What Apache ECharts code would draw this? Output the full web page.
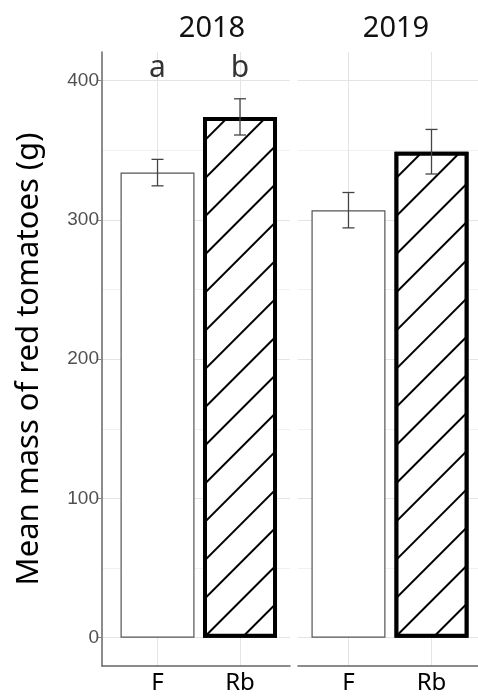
<!DOCTYPE html>
<html><head><meta charset="utf-8">
<script src="https://cdn.jsdelivr.net/npm/echarts@6/dist/echarts.min.js"></script>
<style>html,body{margin:0;padding:0;background:#fff}#c{width:478px;height:697px}</style>
</head><body><div id="c"></div>
<script>
// ---- data ----
const years = ['2018', '2019'];
const treatments = ['F', 'Rb'];
const xPos = [1, 2];
const mean2018 = [334, 374];
const se2018 = [9.5, 13];
const mean2019 = [307, 349];
const se2019 = [12.7, 16];
const letters2018 = ['a', 'b'];
const letters2019 = ['', ''];
const letterY = 398;
const yMajorTicks = [0, 100, 200, 300, 400];
const yMinorTicks = [50, 150, 250, 350];
const yTitle = 'Mean mass of red tomatoes (g)';

// ---- layout / style ----
const yMin = -20.3, yMax = 420.6;
const panels = [
  { grid: { left: 102, right: 188, top: 52, bottom: 31 }, xMin: 0.327, xMax: 2.606, titleX: 207, means: mean2018, ses: se2018, letters: letters2018 },
  { grid: { left: 298, right: 0, top: 52, bottom: 31 }, xMin: 0.392, xMax: 2.56, titleX: 391, means: mean2019, ses: se2019, letters: letters2019 }
];
const axisGrey = '#666';
const majorGrid = '#e4e4e4';
const minorGrid = '#f1f1f1';
const hatch = { symbol: 'rect', symbolSize: 1, color: '#000', backgroundColor: '#fff', dashArrayX: [1, 0], dashArrayY: [2, 25], rotation: -Math.PI / 4 };

const grids = [], xAxes = [], yAxes = [], series = [], titles = [];
panels.forEach((p, i) => {
  grids.push(Object.assign({ containLabel: false }, p.grid));
  xAxes.push({
    type: 'value', gridIndex: i, min: p.xMin, max: p.xMax,
    axisLine: { show: true, onZero: false, lineStyle: { color: axisGrey, width: 1.5 } },
    axisTick: { show: false, customValues: xPos },
    axisLabel: { show: true, customValues: xPos, margin: 5, color: '#000', fontSize: 24, fontFamily: 'Noto Sans',
      formatter: v => treatments[xPos.indexOf(v)] || '' },
    splitLine: { show: true, lineStyle: { color: majorGrid, width: 1 } }
  });
  // major y axis
  yAxes.push({
    type: 'value', gridIndex: i, min: yMin, max: yMax,
    name: i === 0 ? yTitle : '', nameLocation: 'middle', nameGap: 57, nameRotate: 90,
    nameTextStyle: { fontSize: 31, fontFamily: 'Noto Sans', color: '#000' },
    axisLine: { show: i === 0, onZero: false, lineStyle: { color: axisGrey, width: 1.5 } },
    axisTick: { show: i === 0, length: 4, customValues: yMajorTicks, lineStyle: { color: '#888' } },
    axisLabel: { show: i === 0, customValues: yMajorTicks, margin: 3, color: '#505050', fontSize: 19, fontFamily: 'Liberation Sans' },
    splitLine: { show: true, lineStyle: { color: majorGrid, width: 1 } }
  });
  // minor y axis (gridlines only)
  yAxes.push({
    type: 'value', gridIndex: i, min: yMin, max: yMax,
    axisLine: { show: false }, axisLabel: { show: false },
    axisTick: { show: false, customValues: yMinorTicks },
    splitLine: { show: true, lineStyle: { color: minorGrid, width: 1 } }
  });
  const yIdx = i * 2;
  series.push({
    type: 'bar', xAxisIndex: i, yAxisIndex: yIdx, barWidth: 74, z: 3,
    data: p.means.map((m, k) => ({
      value: [xPos[k], m],
      itemStyle: k === 0
        ? { color: '#fff', borderColor: '#555', borderWidth: 1.2 }
        : { color: '#fff', borderColor: '#000', borderWidth: 4, decal: hatch }
    }))
  });
  series.push({
    type: 'custom', xAxisIndex: i, yAxisIndex: yIdx, z: 5,
    data: p.means.map((m, k) => [xPos[k], m - p.ses[k], m + p.ses[k]]),
    renderItem: (params, api) => {
      const lo = api.coord([api.value(0), api.value(1)]);
      const hi = api.coord([api.value(0), api.value(2)]);
      const w = 6;
      const st = { stroke: '#444', lineWidth: 1.3 };
      return { type: 'group', children: [
        { type: 'line', shape: { x1: lo[0], y1: lo[1], x2: hi[0], y2: hi[1] }, style: st },
        { type: 'line', shape: { x1: lo[0] - w, y1: lo[1], x2: lo[0] + w, y2: lo[1] }, style: st },
        { type: 'line', shape: { x1: hi[0] - w, y1: hi[1], x2: hi[0] + w, y2: hi[1] }, style: st }
      ] };
    }
  });
  series.push({
    type: 'scatter', xAxisIndex: i, yAxisIndex: yIdx, z: 6, symbolSize: 1,
    itemStyle: { color: 'transparent' },
    data: p.letters.map((t, k) => [xPos[k], letterY, t]),
    label: { show: true, position: 'top', distance: 0, color: '#000', fontSize: 30, fontFamily: 'Noto Sans',
      formatter: prm => prm.value[2] }
  });
  titles.push({ text: years[i], left: p.titleX, top: 9, textAlign: 'center',
    textStyle: { fontSize: 29, fontWeight: 'normal', fontFamily: 'Noto Sans', color: '#111' } });
});

const chart = echarts.init(document.getElementById('c'), null, { renderer: 'canvas' });
chart.setOption({
  animation: false,
  backgroundColor: '#fff',
  title: titles,
  grid: grids,
  xAxis: xAxes,
  yAxis: yAxes,
  series: series
});
</script></body></html>
